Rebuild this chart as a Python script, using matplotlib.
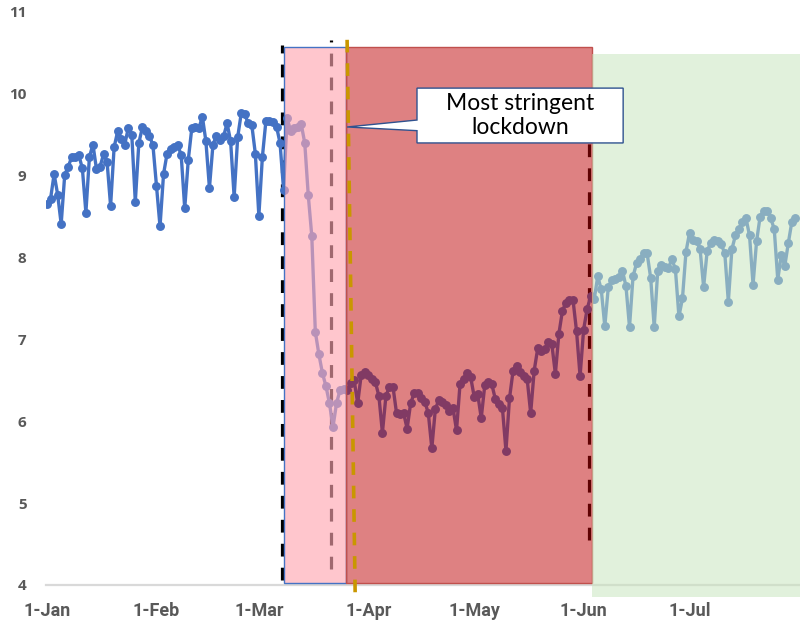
import numpy as np
import pandas as pd
import matplotlib
matplotlib.use("Agg")
import matplotlib.pyplot as plt
from matplotlib.patches import Rectangle, Polygon

# ---- data (daily values, 2020) ----
jan = [8.65, 8.72, 9.02, 8.77, 8.41, 9.01, 9.11, 9.23, 9.23, 9.25, 9.09, 8.55, 9.23, 9.38,
       9.08, 9.11, 9.26, 9.17, 8.63, 9.35, 9.54, 9.45, 9.38, 9.58, 9.50, 8.68, 9.40, 9.59,
       9.55, 9.49, 9.37]
feb = [8.88, 8.38, 9.02, 9.27, 9.33, 9.35, 9.38, 9.25, 8.60, 9.19, 9.58, 9.60, 9.58, 9.72,
       9.42, 8.85, 9.38, 9.49, 9.44, 9.48, 9.64, 9.42, 8.74, 9.47, 9.76, 9.75, 9.64, 9.62,
       9.27]
mar = [8.51, 9.23, 9.67, 9.67, 9.65, 9.60, 9.40, 8.83, 9.70, 9.55, 9.58, 9.60, 9.63, 9.40,
       8.76, 8.26, 7.09, 6.82, 6.59, 6.43, 6.22, 5.93, 6.22, 6.38, 6.40, 6.38, 6.47, 6.50,
       6.22, 6.57, 6.60]
apr = [6.57, 6.52, 6.48, 6.31, 5.86, 6.31, 6.42, 6.42, 6.10, 6.09, 6.10, 5.91, 6.22, 6.34,
       6.35, 6.29, 6.24, 6.10, 5.67, 6.15, 6.26, 6.24, 6.20, 6.12, 6.16, 5.89, 6.46, 6.52,
       6.59, 6.54]
may = [6.30, 6.33, 6.04, 6.44, 6.48, 6.45, 6.27, 6.21, 6.16, 5.64, 6.28, 6.61, 6.68, 6.60,
       6.55, 6.52, 6.10, 6.62, 6.89, 6.86, 6.88, 6.97, 6.94, 6.58, 7.07, 7.35, 7.45, 7.48,
       7.48, 7.10, 6.55]
jun = [7.12, 7.37, 7.53, 7.49, 7.77, 7.61, 7.16, 7.64, 7.73, 7.74, 7.76, 7.84, 7.65, 7.15,
       7.77, 7.93, 7.98, 8.06, 8.05, 7.75, 7.15, 7.84, 7.91, 7.88, 7.87, 7.98, 7.86, 7.28,
       7.50, 8.07]
jul = [8.30, 8.22, 8.20, 8.10, 7.64, 8.08, 8.18, 8.21, 8.20, 8.16, 8.05, 7.46, 8.10, 8.27,
       8.35, 8.43, 8.48, 8.27, 7.67, 8.20, 8.50, 8.57, 8.57, 8.48, 8.35, 7.73, 8.03, 7.90,
       8.18, 8.44, 8.48]

tick_labels = ["1-Jan", "1-Feb", "1-Mar", "1-Apr", "1-May", "1-Jun", "1-Jul"]
tick_dates = ["2020-01-01", "2020-02-01", "2020-03-01", "2020-04-01",
              "2020-05-01", "2020-06-01", "2020-07-01"]
y_ticks = [4, 5, 6, 7, 8, 9, 10, 11]
annotation = "Most stringent\nlockdown"

# ---- derived ----
values = jan + feb + mar + apr + may + jun + jul
start = pd.Timestamp("2020-01-01")
dates = pd.date_range(start, periods=len(values), freq="D")
x = np.asarray((dates - start).days, dtype=float)
tick_pos = np.asarray((pd.to_datetime(tick_dates) - start).days, dtype=float)

def d(s):
    return float((pd.Timestamp(s) - start).days)

fig = plt.figure(figsize=(8, 6.27), dpi=100)
ax = fig.add_axes([0.0575, 0.067, 0.9425, 0.9139])
ax.set_xlim(-0.3, 213.3)
ax.set_ylim(4, 11)

# dashed reference lines (below the shaded regions)
for xd, y0, y1 in [(d("2020-03-07") + 0.5, 4.06, 10.6),
                   (d("2020-03-21") + 0.5, 4.2, 10.66),
                   (d("2020-06-02") + 0.5, 4.55, 10.07)]:
    ax.plot([xd, xd], [y0, y1], color="black", lw=2.3, ls=(0, (4, 3.5)),
            zorder=1.5, clip_on=False)

# data line
ax.plot(x, values, color="#4472C4", lw=2.4, marker="o", markersize=5.4, zorder=2)

# shaded regions (semi-transparent, drawn over the line)
p0, p1, p2 = d("2020-03-08") + 0.2, d("2020-03-25") + 0.7, d("2020-06-03") + 0.4
ax.add_patch(Rectangle((p0, 4.02), p1 - p0, 6.55, facecolor=(1.0, 0.65, 0.695, 0.63),
                       edgecolor="#4472C4", lw=1.0, zorder=3, clip_on=False))
ax.add_patch(Rectangle((p1, 4.02), p2 - p1, 6.55, facecolor=(0.745, 0.016, 0.024, 0.5),
                       edgecolor="#C0504D", lw=1.0, zorder=3, clip_on=False))
ax.add_patch(Rectangle((p2, 3.85), 213.5 - p2, 6.64, facecolor=(0.784, 0.898, 0.741, 0.53),
                       edgecolor="none", lw=0, zorder=3, clip_on=False))

# orange dashed line
ax.plot([85.0, 87.3], [10.66, 3.84], color="#C99700", lw=2.6, ls=(0, (3.5, 3)),
        zorder=4, clip_on=False)

# callout
bx0, bx1, by0, by1 = 104.8, 163.2, 9.40, 10.07
callout = Polygon([(bx0, by1), (bx1, by1), (bx1, by0), (bx0, by0), (bx0, 9.55),
                   (85.0, 9.595), (bx0, 9.68)], closed=True, facecolor="white",
                  edgecolor="#2F528F", lw=1.0, zorder=5)
ax.add_patch(callout)
ax.text((bx0 + bx1) / 2, (by0 + by1) / 2, annotation, ha="center", va="center",
        fontsize=16.5, family=["Lato", "DejaVu Sans"], color="black", zorder=6,
        linespacing=1.15)

# axes styling
for s in ["left", "right", "top"]:
    ax.spines[s].set_visible(False)
ax.spines["bottom"].set_color("#D9D9D9")
ax.spines["bottom"].set_linewidth(1.6)
ax.spines["bottom"].set_zorder(0.5)
ax.set_yticks(y_ticks)
ax.set_yticklabels([str(v) for v in y_ticks], fontsize=11, fontweight="bold",
                   color="#595959", family=["Open Sans", "DejaVu Sans"])
ax.set_xticks(tick_pos)
ax.set_xticklabels(tick_labels, fontsize=13, fontweight="bold", color="#595959",
                   family=["Liberation Sans Narrow", "Roboto", "DejaVu Sans"])
ax.tick_params(axis="y", length=0, pad=14)
ax.tick_params(axis="x", length=0, pad=12)
ax.patch.set_alpha(0)

fig.savefig("out.png", dpi=100)
